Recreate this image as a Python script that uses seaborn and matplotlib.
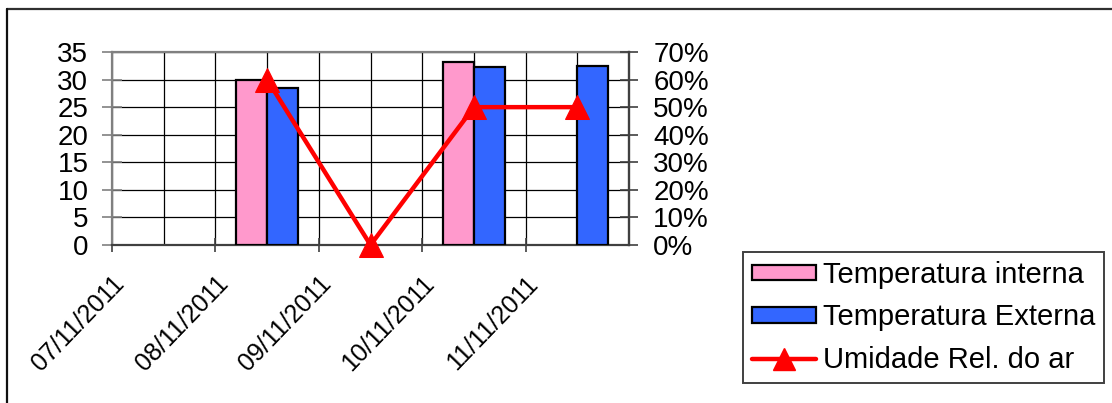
import numpy as np
import pandas as pd
import matplotlib
matplotlib.use("Agg")
import matplotlib.pyplot as plt
import seaborn as sns
from matplotlib.patches import Patch
from matplotlib.lines import Line2D
from matplotlib.ticker import FuncFormatter

# Daily readings
dates = ["07/11/2011", "08/11/2011", "09/11/2011", "10/11/2011", "11/11/2011"]
temp_interna = [np.nan, 30.0, np.nan, 33.2, np.nan]
temp_externa = [np.nan, 28.5, np.nan, 32.2, 32.5]
umidade = [np.nan, 0.60, 0.00, 0.50, 0.50]

series_names = ["Temperatura interna", "Temperatura Externa"]
humidity_name = "Umidade Rel. do ar"
temp_ticks = [0, 5, 10, 15, 20, 25, 30, 35]
humidity_ticks = [0.0, 0.1, 0.2, 0.3, 0.4, 0.5, 0.6, 0.7]

bar_colors = ["#FF99CC", "#3366FF"]
line_color = "#FF0000"

sns.set_theme(style="white")
plt.rcParams["font.family"] = ["Liberation Sans", "DejaVu Sans"]
plt.rcParams["text.color"] = "black"
plt.rcParams["xtick.color"] = "black"
plt.rcParams["ytick.color"] = "black"

W, H = 1112, 403
fig = plt.figure(figsize=(W / 100, H / 100), dpi=100)
fig.patch.set_facecolor("white")

ax = fig.add_axes([112 / W, 1 - 245 / H, (629 - 112) / W, (245 - 52) / H])

temps = pd.DataFrame({
    "Data": dates * 2,
    "Serie": [series_names[0]] * len(dates) + [series_names[1]] * len(dates),
    "Valor": temp_interna + temp_externa,
}).dropna()

sns.barplot(data=temps, x="Data", y="Valor", hue="Serie", order=dates,
            hue_order=series_names, palette=bar_colors, saturation=1,
            width=0.6, edgecolor="black", linewidth=1.6, errorbar=None,
            legend=False, ax=ax, zorder=3)

n = len(dates)
ax.set_xlim(-0.5, n - 0.5)
ax.set_ylim(temp_ticks[0], temp_ticks[-1])
ax.set_yticks(temp_ticks)
ax.set_xticks(np.arange(n) - 0.5)
ax.set_xticklabels(dates)
ax.set_xticks(np.arange(n), minor=True)
ax.set_xlabel("")
ax.set_ylabel("")

ax.grid(True, which="both", axis="x", color="black", lw=0.9, zorder=0)
ax.grid(True, which="major", axis="y", color="black", lw=0.9, zorder=0)
ax.set_axisbelow(True)

for side, sp in ax.spines.items():
    sp.set_color("#808080")
    sp.set_linewidth(1.6)
ax.spines["bottom"].set_color("#404040")

ax.tick_params(axis="y", which="major", direction="inout", length=14,
               width=1.2, color="#808080", pad=10, labelsize=20, left=True)
ax.tick_params(axis="x", which="major", direction="inout", length=10,
               width=1.2, color="#404040", pad=14, labelsize=18, bottom=True)
ax.tick_params(axis="x", which="minor", length=0)
plt.setp(ax.get_xticklabels(), rotation=46, ha="right", va="top",
         rotation_mode="anchor", color="black")
plt.setp(ax.get_yticklabels(), color="black")

# Relative humidity on the secondary axis
ax2 = ax.twinx()
sns.lineplot(x=np.arange(n), y=umidade, color=line_color, lw=3.2,
             marker="^", markersize=17, markeredgecolor=line_color,
             ax=ax2, clip_on=False, zorder=5)
ax2.set_ylim(humidity_ticks[0], humidity_ticks[-1])
ax2.set_yticks(humidity_ticks)
ax2.yaxis.set_major_formatter(FuncFormatter(lambda v, p: f"{v * 100:.0f}%"))
ax2.set_xlim(-0.5, n - 0.5)
for sp in ax2.spines.values():
    sp.set_visible(False)
ax2.spines["right"].set_visible(True)
ax2.spines["right"].set_color("#404040")
ax2.spines["right"].set_linewidth(1.6)
ax2.tick_params(axis="y", direction="inout", length=13, width=1.2,
                color="#404040", pad=11, labelsize=20, right=True)
plt.setp(ax2.get_yticklabels(), color="black")
ax2.grid(False)

# Legend
handles = [
    Patch(facecolor=bar_colors[0], edgecolor="black", lw=1.6),
    Patch(facecolor=bar_colors[1], edgecolor="black", lw=1.6),
    Line2D([], [], color=line_color, lw=3.2, marker="^", markersize=16,
           markeredgecolor=line_color),
]
leg = fig.legend(handles, series_names + [humidity_name],
                 loc="upper left", bbox_to_anchor=(743 / W, 1 - 252 / H),
                 bbox_transform=fig.transFigure, borderaxespad=0,
                 fontsize=21, frameon=True, fancybox=False, shadow=False,
                 framealpha=1, edgecolor="#404040", handlelength=2.2,
                 handleheight=0.45, handletextpad=0.25, labelspacing=0.5,
                 borderpad=0.3)
leg.get_frame().set_linewidth(1.4)
for t in leg.get_texts():
    t.set_color("black")

# Chart border
fig.add_artist(Line2D([7 / W, 1.0], [1 - 9 / H, 1 - 9 / H],
                      transform=fig.transFigure, color="#303030", lw=1.6))
fig.add_artist(Line2D([7 / W, 7 / W], [1 - 9 / H, 0.0],
                      transform=fig.transFigure, color="#101010", lw=1.6))

fig.savefig("out.png", dpi=100, facecolor="white")
